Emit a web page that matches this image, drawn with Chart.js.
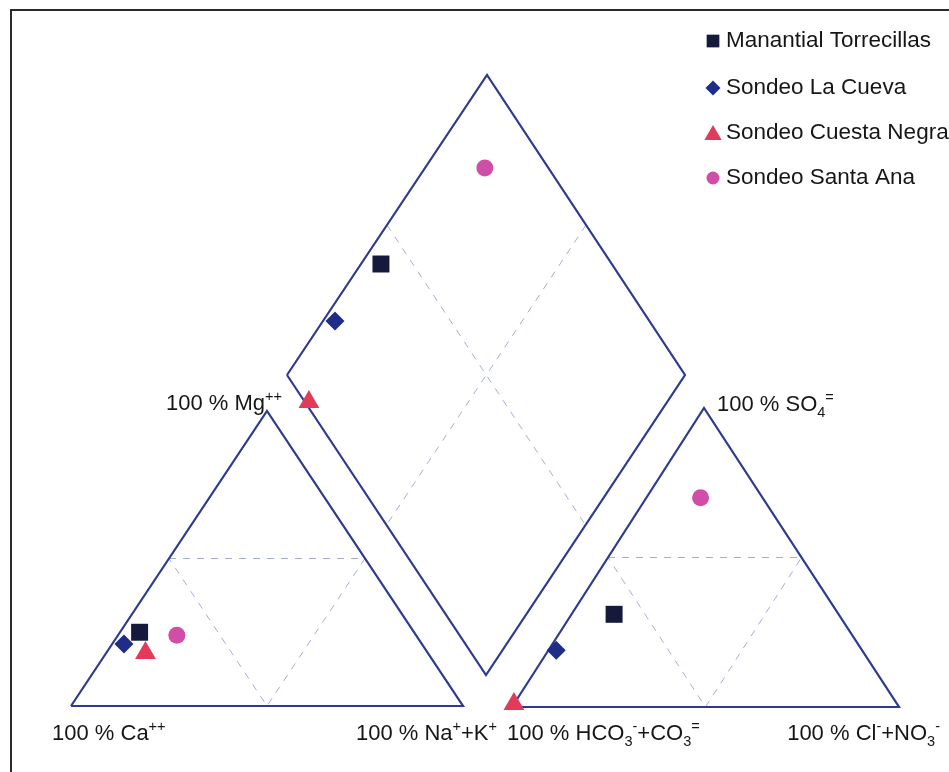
<!DOCTYPE html>
<html><head><meta charset="utf-8">
<script src="https://cdn.jsdelivr.net/npm/chart.js@4.4.0/dist/chart.umd.min.js"></script>
<style>html,body{margin:0;padding:0;background:#fff}canvas{display:block}</style>
</head><body>
<canvas id="c" width="949" height="772"></canvas>
<script>
// ---- Data (percent of meq) ----
const samples   = ['Manantial Torrecillas', 'Sondeo La Cueva', 'Sondeo Cuesta Negra', 'Sondeo Santa Ana'];
const caPct     = [70, 76, 72, 61];
const mgPct     = [25, 21, 18, 24];
const naKPct    = [5, 3, 10, 15];
const hco3Pct   = [58, 79, 99, 16];
const so4Pct    = [31, 19, 1, 70];
const clNo3Pct  = [11, 2, 0, 14];
const markerStyles = ['rect', 'rectRot', 'triangle', 'circle'];
const markerColors = ['#151a3d', '#1d2d88', '#e13a5b', '#d04ea7'];
const cornerLabels = {
  mg:   [['100 % Mg',''],['++','sup']],
  ca:   [['100 % Ca',''],['++','sup']],
  na:   [['100 % Na',''],['+','sup'],['+K',''],['+','sup']],
  hco3: [['100 % HCO',''],['3','sub'],['-','sup'],['+CO',''],['3','sub'],['=','sup']],
  cl:   [['100 % Cl',''],['-','sup'],['+NO',''],['3','sub'],['-','sup']],
  so4:  [['100 % SO',''],['4','sub'],['=','sup']]
};

// ---- Diagram frame (Piper geometry in canvas units) ----
const G = {
  ca: [71, 706], na: [463, 706], mg: [267, 411],
  hco3: [512, 707], cl: [899, 707], so4: [704, 408],
  dL: [287, 375], dB: [486, 675], dT: [487, 75], dR: [685, 375]
};
const mid = (a, b) => ({x: (a[0] + b[0]) / 2, y: (a[1] + b[1]) / 2});
const P = a => ({x: a[0], y: a[1]});
function tern(A, B, C, pa, pb, pc) {
  const s = pa + pb + pc;
  return {x: (pa * A[0] + pb * B[0] + pc * C[0]) / s, y: (pa * A[1] + pb * B[1] + pc * C[1]) / s};
}
function diamondPt(naK, anionNonHco3) {
  const u = naK / 100, v = anionNonHco3 / 100;
  return {
    x: G.dL[0] + u * (G.dB[0] - G.dL[0]) + v * (G.dT[0] - G.dL[0]),
    y: G.dL[1] + u * (G.dB[1] - G.dL[1]) + v * (G.dT[1] - G.dL[1])
  };
}

const outlineColor = '#2c3a8f';
const dashColor = 'rgba(105,115,195,0.6)';
function outline(pts) {
  return {data: pts, showLine: true, pointRadius: 0, borderColor: outlineColor, borderWidth: 2.2, fill: false, order: 2};
}
function dashed(pts) {
  return {data: pts, showLine: true, pointRadius: 0, borderColor: dashColor, borderWidth: 1, borderDash: [7, 7], fill: false, order: 3};
}

const datasets = [];
samples.forEach((name, i) => {
  const pts = [
    tern(G.ca, G.na, G.mg, caPct[i], naKPct[i], mgPct[i]),
    tern(G.hco3, G.cl, G.so4, hco3Pct[i], clNo3Pct[i], so4Pct[i]),
    diamondPt(naKPct[i], so4Pct[i] + clNo3Pct[i])
  ];
  const r = [12, 9.5, 12, 8.5][i];
  datasets.push({
    label: name, data: pts, showLine: false, pointStyle: markerStyles[i],
    pointRadius: r, pointHoverRadius: r, backgroundColor: markerColors[i],
    borderColor: markerColors[i], borderWidth: 0, order: 0
  });
});
datasets.push({data: [{x: 11, y: 790}, {x: 11, y: 10}, {x: 960, y: 10}], showLine: true, pointRadius: 0,
  borderColor: '#2a2a2a', borderWidth: 2, fill: false, order: 2});
datasets.push(outline([P(G.ca), P(G.na), P(G.mg), P(G.ca)]));
datasets.push(outline([P(G.hco3), P(G.cl), P(G.so4), P(G.hco3)]));
datasets.push(outline([P(G.dL), P(G.dT), P(G.dR), P(G.dB), P(G.dL)]));
datasets.push(dashed([mid(G.ca, G.mg), mid(G.na, G.mg), mid(G.ca, G.na), mid(G.ca, G.mg)]));
datasets.push(dashed([mid(G.hco3, G.so4), mid(G.cl, G.so4), mid(G.hco3, G.cl), mid(G.hco3, G.so4)]));
datasets.push(dashed([mid(G.dL, G.dT), mid(G.dB, G.dR)]));
datasets.push(dashed([mid(G.dT, G.dR), mid(G.dL, G.dB)]));

const FONT = '"Liberation Sans", Arial, sans-serif';
const SUBSCALE = 0.66;
function richWidth(ctx, segs, size) {
  let w = 0;
  segs.forEach(([t, k]) => { ctx.font = (k ? size * SUBSCALE : size) + 'px ' + FONT; w += ctx.measureText(t).width; });
  return w;
}
function drawRich(ctx, segs, x, y, size, align) {
  let cx = align === 'right' ? x - richWidth(ctx, segs, size) : x;
  ctx.textBaseline = 'alphabetic';
  ctx.textAlign = 'left';
  segs.forEach(([t, k]) => {
    const fs = k ? size * SUBSCALE : size;
    ctx.font = fs + 'px ' + FONT;
    const dy = k === 'sup' ? -size * 0.42 : (k === 'sub' ? size * 0.25 : 0);
    ctx.fillText(t, cx, y + dy);
    cx += ctx.measureText(t).width;
  });
}

const textPlugin = {
  id: 'pipertext',
  afterDraw(chart) {
    const ctx = chart.ctx;
    ctx.save();
    ctx.fillStyle = '#161616';
    const S = 22;
    drawRich(ctx, cornerLabels.mg, 166, 410, S, 'left');
    drawRich(ctx, cornerLabels.so4, 717, 411, S, 'left');
    drawRich(ctx, cornerLabels.ca, 52, 740, S, 'left');
    drawRich(ctx, cornerLabels.na, 497, 740, S, 'right');
    drawRich(ctx, cornerLabels.hco3, 507, 740, S, 'left');
    drawRich(ctx, cornerLabels.cl, 940, 740, S, 'right');
    const rows = [41, 88, 133, 178];
    const lr = [9, 7.5, 10, 6.5];
    chart.data.datasets.slice(0, samples.length).forEach((ds, i) => {
      ctx.fillStyle = ds.backgroundColor;
      ctx.strokeStyle = ds.backgroundColor;
      Chart.helpers.drawPoint(ctx, {pointStyle: ds.pointStyle, radius: lr[i], borderWidth: 0, rotation: 0}, 713, rows[i] + (i === 2 ? 2 : 0));
      ctx.fillStyle = '#161616';
      ctx.font = '22.5px ' + FONT;
      ctx.textBaseline = 'middle';
      ctx.textAlign = 'left';
      ctx.fillText(ds.label, 726, rows[i]);
    });
    ctx.restore();
  }
};

new Chart(document.getElementById('c'), {
  type: 'scatter',
  data: {datasets},
  options: {
    responsive: false, animation: false, devicePixelRatio: 1,
    layout: {padding: 0, autoPadding: false},
    scales: {
      x: {type: 'linear', min: 0, max: 949, display: false},
      y: {type: 'linear', min: 0, max: 772, reverse: true, display: false}
    },
    plugins: {legend: {display: false}, tooltip: {enabled: false}},
    elements: {line: {tension: 0}}
  },
  plugins: [textPlugin]
});
</script>
</body></html>
